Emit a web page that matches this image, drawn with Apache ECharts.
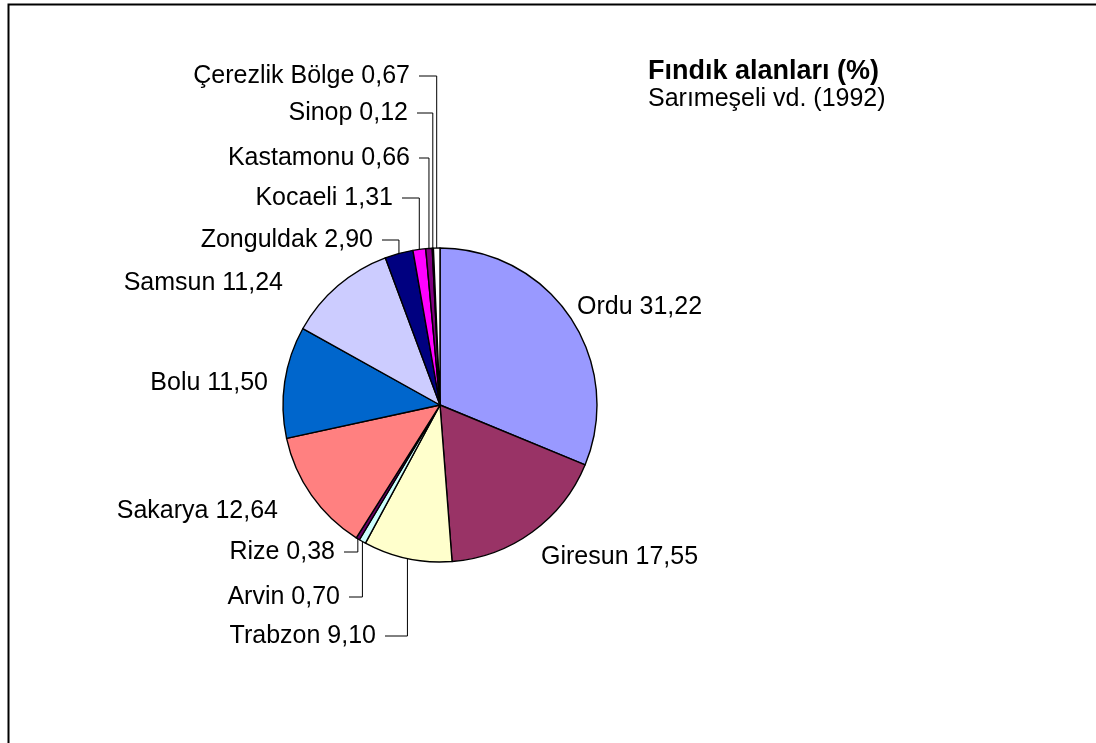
<!DOCTYPE html>
<html>
<head>
<meta charset="utf-8">
<script src="https://cdn.jsdelivr.net/npm/echarts@6/dist/echarts.min.js"></script>
<style>
  html, body { margin: 0; padding: 0; background: #fff; }
  #chart { width: 1096px; height: 743px; }
</style>
</head>
<body>
<div id="chart"></div>
<script>
// hazelnut areas by province, clockwise from 12 o'clock
const names = ['Ordu', 'Giresun', 'Trabzon', 'Arvin', 'Rize', 'Sakarya', 'Bolu',
    'Samsun', 'Zonguldak', 'Kocaeli', 'Kastamonu', 'Sinop', 'Çerezlik Bölge'];
const values = [31.22, 17.55, 9.10, 0.70, 0.38, 12.64, 11.50, 11.24, 2.90, 1.31, 0.66, 0.12, 0.67];

const colors = ['#9999FF', '#993366', '#FFFFCC', '#CCFFFF', '#660066', '#FF8080', '#0066CC',
    '#CCCCFF', '#000080', '#FF00FF', '#800080', '#800080', '#FFFFFF'];

// label placement (excel style), x is the edge nearest the pie
const labelX = [577, 541, 376, 340, 335, 278, 268, 283, 373, 393, 410, 408, 410];
const labelY = [307, 557, 636, 597, 552, 511, 383, 283, 240, 198, 158, 113, 76];
const labelAlign = ['left', 'left', 'right', 'right', 'right', 'right', 'right',
    'right', 'right', 'right', 'right', 'right', 'right'];
const hasLeader = [false, false, true, true, true, false, false, false, true, true, true, true, true];

const fmt = v => v.toFixed(2).replace('.', ',');

const chart = echarts.init(document.getElementById('chart'));

const option = {
    animation: false,
    title: {
        text: 'Fındık alanları (%)',
        subtext: 'Sarımeşeli vd. (1992)',
        left: 648,
        top: 58,
        padding: 0,
        itemGap: 2,
        textStyle: {
            fontFamily: 'Liberation Sans',
            fontSize: 27,
            fontWeight: 'bold',
            color: '#000',
            lineHeight: 27
        },
        subtextStyle: {
            fontFamily: 'Liberation Sans',
            fontSize: 25,
            color: '#000',
            lineHeight: 25
        }
    },
    graphic: [{
        type: 'rect',
        shape: { x: 8.5, y: 4.5, width: 1200, height: 900 },
        style: { fill: null, stroke: '#000', lineWidth: 2 },
        silent: true,
        z: 100
    }],
    series: [{
        type: 'pie',
        center: [440, 405],
        radius: 157,
        startAngle: 90,
        clockwise: true,
        avoidLabelOverlap: false,
        itemStyle: { borderColor: '#000', borderWidth: 1.4 },
        label: {
            show: true,
            position: 'outside',
            alignTo: 'none',
            fontFamily: 'Liberation Sans',
            fontSize: 25,
            color: '#000',
            formatter: p => p.name + ' ' + fmt(p.value)
        },
        labelLine: {
            show: true,
            length: 10,
            length2: 10,
            lineStyle: { color: '#000', width: 1 }
        },
        emphasis: { disabled: true },
        labelLayout: function (params) {
            const i = params.dataIndex;
            const out = {
                x: labelX[i],
                y: labelY[i],
                align: labelAlign[i],
                verticalAlign: 'middle'
            };
            const pts = params.labelLinePoints;
            if (hasLeader[i] && pts && pts.length) {
                const a = pts[0];
                out.labelLinePoints = [
                    [a[0], a[1]],
                    [a[0], labelY[i]],
                    [labelX[i] + 9, labelY[i]]
                ];
            }
            return out;
        },
        data: names.map((n, i) => ({
            name: n,
            value: values[i],
            itemStyle: { color: colors[i] },
            labelLine: { show: hasLeader[i] }
        }))
    }]
};

chart.setOption(option);
</script>
</body>
</html>
